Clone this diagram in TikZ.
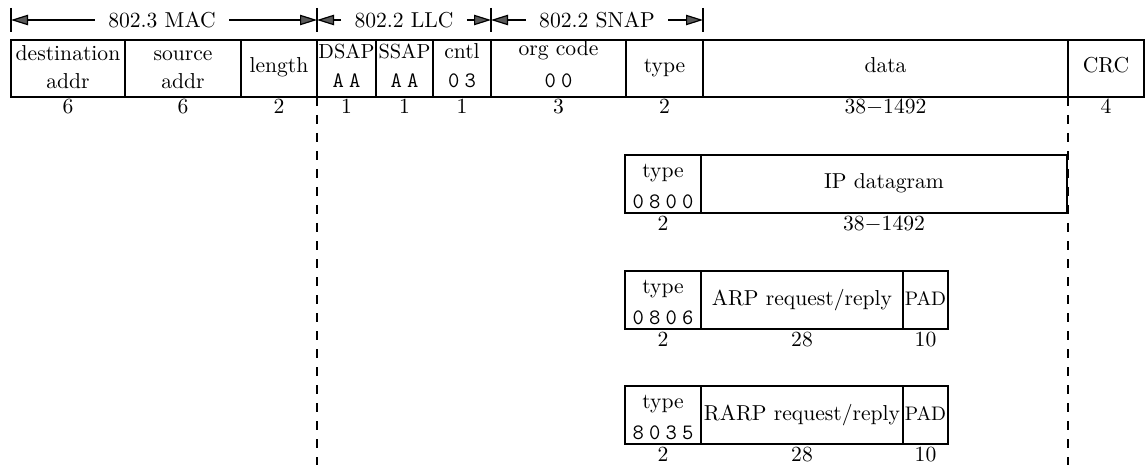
\documentclass[tikz,border=0pt]{standalone}
\usepackage{fontspec}
\usetikzlibrary{arrows.meta}
\newcommand{\lsp}{\kern2.6pt}
\begin{document}
\begin{tikzpicture}[x=0.5pt,y=-0.5pt,
  lbl/.style={font=\fontsize{10.8}{13}\selectfont, inner sep=0pt, anchor=base},
  sap/.style={lbl, font=\fontsize{10.2}{12}\selectfont},
  pad/.style={lbl, font=\fontsize{9.8}{12}\selectfont},
  code/.style={font=\fontsize{11}{13}\selectfont\ttfamily, inner sep=0pt, anchor=base},
  frame/.style={draw, line width=0.65pt},
  guide/.style={line width=0.65pt, dash pattern=on 4.5pt off 4.5pt},
  tick/.style={line width=0.65pt},
  span/.style={line width=0.6pt, -{Triangle[length=8.5pt,width=5.2pt,fill=black!65]}},
  hlbl/.style={font=\fontsize{10.8}{13}\selectfont, inner xsep=6.5pt, inner ysep=0pt}]
\useasboundingbox (0,0) rectangle (1147,465);

% ---------- header spans ----------
\coordinate (t0) at (11,20);
\coordinate (t1) at (317,20);
\coordinate (t2) at (491,20);
\coordinate (t3) at (703,20);
\foreach \t in {t0,t1,t2,t3} \draw[tick] ([yshift=6pt]\t) -- ([yshift=-6pt]\t);
\node[hlbl] (mac)  at (162,20) {802.3 MAC};
\node[hlbl] (llc)  at (404,20) {802.2 LLC};
\node[hlbl] (snap) at (597,20) {802.2 SNAP};
\draw[span] (mac) -- (t0);
\draw[span] (mac) -- (t1);
\draw[span] (llc) -- (t1);
\draw[span] (llc) -- (t2);
\draw[span] (snap) -- (t2);
\draw[span] (snap) -- (t3);

% ---------- main frame ----------
\draw[frame] (11,40) rectangle (1144,97);
\foreach \x in {125,241,317,376,433,491,626,703,1068} \draw[frame] (\x,40) -- (\x,97);

\coordinate (ga) at (317,97);  \coordinate (gaend) at (317,465);
\coordinate (gb) at (1068,97); \coordinate (gbend) at (1068,465);
\draw[guide] (ga) -- (gaend);
\draw[guide] (gb) -- (gbend);

\node[lbl] (dst1) at (68,61) {destination};
\node[lbl] (dst2) at (68,89) {addr};
\node[lbl] (src1) at (183,61) {source};
\node[lbl] (src2) at (183,89) {addr};
\node[lbl] (len)  at (279,73) {length};
\node[sap] (dsap) at (346.5,59) {DSAP};
\node[code] (dsapv) at (346.5,88) {A\lsp A};
\node[sap] (ssap) at (404.5,59) {SSAP};
\node[code] (ssapv) at (404.5,88) {A\lsp A};
\node[lbl] (cntl) at (462,59) {cntl};
\node[code] (cntlv) at (462,88) {0\lsp 3};
\node[lbl] (org)  at (558.5,56) {org code};
\node[code] (orgv) at (558.5,88) {0\lsp 0};
\node[lbl] (typ)  at (664.5,73) {type};
\node[lbl] (dat)  at (885.5,73) {data};
\node[lbl] (crc)  at (1106,73) {CRC};

\node[lbl] (n1)  at (68,114) {6};
\node[lbl] (n2)  at (183,114) {6};
\node[lbl] (n3)  at (279,114) {2};
\node[lbl] (n4)  at (346.5,114) {1};
\node[lbl] (n5)  at (404.5,114) {1};
\node[lbl] (n6)  at (462,114) {1};
\node[lbl] (n7)  at (558.5,114) {3};
\node[lbl] (n8)  at (664.5,114) {2};
\node[lbl] (n9)  at (885.5,114) {38$-$1492};
\node[lbl] (n10) at (1106,114) {4};

% ---------- IP ----------
\draw[frame] (625,155) rectangle (1067,213);
\draw[frame] (701,155) -- (701,213);
\node[lbl] (iptype) at (663,177) {type};
\node[code] (ipcode) at (663,208) {0\lsp 8\lsp 0\lsp 0};
\node[lbl] (ipdata) at (884,189) {IP datagram};
\node[lbl] (ipn1) at (663,230) {2};
\node[lbl] (ipn2) at (884,230) {38$-$1492};

% ---------- ARP ----------
\draw[frame] (625,271) rectangle (948,329);
\draw[frame] (701,271) -- (701,329);
\draw[frame] (903,271) -- (903,329);
\node[lbl] (arptype) at (663,293) {type};
\node[code] (arpcode) at (663,324) {0\lsp 8\lsp 0\lsp 6};
\node[lbl] (arpdata) at (802,305) {ARP request/reply};
\node[pad] (arppad) at (925.5,305) {PAD};
\node[lbl] (arpn1) at (663,346) {2};
\node[lbl] (arpn2) at (802,346) {28};
\node[lbl] (arpn3) at (925.5,346) {10};

% ---------- RARP ----------
\draw[frame] (625,386) rectangle (948,444);
\draw[frame] (701,386) -- (701,444);
\draw[frame] (903,386) -- (903,444);
\node[lbl] (rtype) at (663,408) {type};
\node[code] (rcode) at (663,439) {8\lsp 0\lsp 3\lsp 5};
\node[lbl] (rdata) at (802,420) {RARP request/reply};
\node[pad] (rpad) at (925.5,420) {PAD};
\node[lbl] (rn1) at (663,461) {2};
\node[lbl] (rn2) at (802,461) {28};
\node[lbl] (rn3) at (925.5,461) {10};
\end{tikzpicture}
\end{document}
